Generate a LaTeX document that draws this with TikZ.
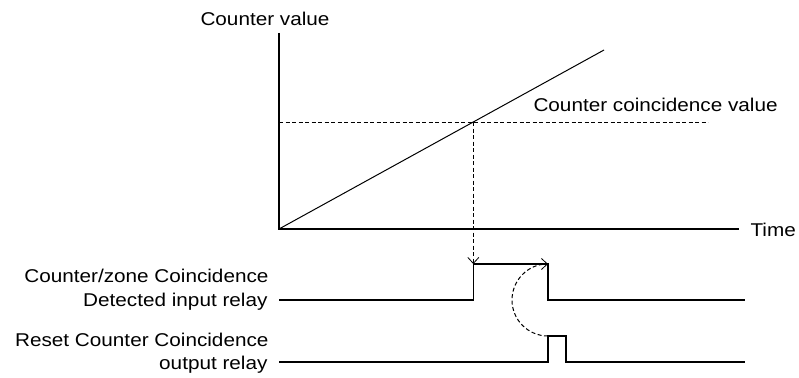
\documentclass[tikz,border=0pt]{standalone}
\usepackage{fontspec}
\setmainfont{Liberation Sans}[FakeStretch=1.12]
\usetikzlibrary{arrows.meta}
\begin{document}
\begin{tikzpicture}[x=1pt,y=-1pt,line width=1pt,>={Straight Barb[length=6pt,width=11pt,line width=0.8pt]}]
  \tikzstyle{every node} = [inner sep=0pt,font=\fontsize{18.5}{20}\selectfont]
  \tikzstyle{axis} = [line width=1.5pt]
  \tikzstyle{signal} = [line width=1.6pt]
  \tikzstyle{guide} = [dash pattern=on 4pt off 2.5pt,line width=1pt]
  \useasboundingbox (0,0) rectangle (799,377);
  % graph
  \coordinate (o) at (279,229);
  \coordinate (ytop) at (279,33);
  \coordinate (xend) at (739,229);
  \coordinate (tip) at (604,50);
  \coordinate (cvl) at (279,122);
  \coordinate (cvr) at (708,122);
  \node[anchor=base] (ylab) at (265,26) {Counter value};
  \node[anchor=base west] (tlab) at (750,236) {Time};
  \node[anchor=base west] (cvlab) at (533,111) {Counter coincidence value};
  \draw[axis] (ytop) -- (o) -- (xend);
  \draw (o) -- (tip);
  \draw[guide] (cvl) -- (cvr);
  \coordinate (hit) at (intersection of o--tip and cvl--cvr);
  % relays
  \coordinate (in0) at (279,300);
  \coordinate (in1) at (745,300);
  \coordinate (fall) at (548,264);
  \coordinate (rise) at (hit |- fall);
  \coordinate (out0) at (279,362);
  \coordinate (out1) at (745,362);
  \coordinate (pa) at (548,336);
  \coordinate (pb) at (566,336);
  \node[anchor=base east] (inlab1) at (269,282) {Counter/zone Coincidence};
  \node[anchor=base east] (inlab2) at (268,306) {Detected input relay};
  \node[anchor=base east] (outlab1) at (269,346) {Reset Counter Coincidence};
  \node[anchor=base east] (outlab2) at (268,369) {output relay};
  \draw[signal] (in0) -- (rise |- in0) -- (rise) -- (fall) -- (fall |- in0) -- (in1);
  \draw[signal] (out0) -- (pa |- out0) -- (pa) -- (pb) -- (pb |- out0) -- (out1);
  \draw[guide,->] (hit) -- (rise);
  \draw[guide,->] (pa) arc[start angle=270,end angle=90,radius=36pt];
\end{tikzpicture}
\end{document}
